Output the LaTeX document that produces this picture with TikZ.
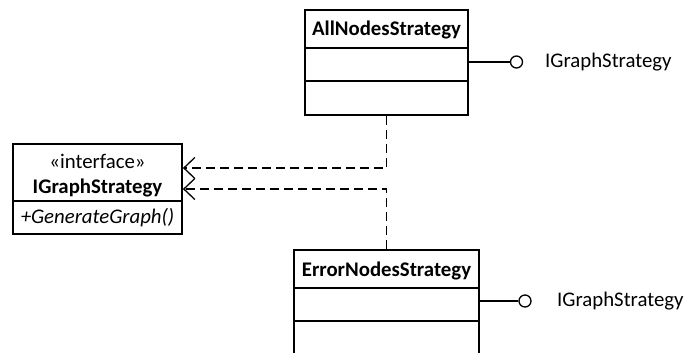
\documentclass[tikz,border=0pt]{standalone}
\usepackage{fontspec}
\setmainfont{Carlito}
\usetikzlibrary{arrows.meta}
\begin{document}
\begin{tikzpicture}[x=1pt,y=-1pt,
  box/.style={draw,line width=1.8pt,inner sep=0pt,fill=white},
  lbl/.style={inner sep=0pt,font=\fontsize{20.8}{25}\selectfont},
  dep/.style={dashed,line width=1.3pt,dash pattern=on 9pt off 5pt,
    -{Straight Barb[length=11pt,width=21pt,line width=1.3pt]}},
  lolli/.style={circle,draw,line width=1.3pt,minimum size=12pt,inner sep=0pt,fill=white},
  lline/.style={line width=1.3pt}]
\clip (0,0) rectangle (689,353);
\fill[white] (0,0) rectangle (689,353);
% AllNodesStrategy
\node[box,minimum width=163pt,minimum height=105pt] (all) at (386.5,62.5) {};
\draw[line width=1.8pt] (305,48) -- (468,48) (305,81) -- (468,81);
\node[lbl,font=\fontsize{20.8}{25}\selectfont\bfseries] (allt) at (386.5,30) {AllNodesStrategy};
% IGraphStrategy interface
\node[box,minimum width=169pt,minimum height=90pt] (iface) at (97.5,189) {};
\draw[line width=1.8pt] (13,201) -- (182,201);
\node[lbl] (ster) at (97.5,161) {«interface»};
\node[lbl,font=\fontsize{20.8}{25}\selectfont\bfseries] (ifacet) at (97.5,188) {IGraphStrategy};
\node[lbl,font=\fontsize{20.8}{25}\selectfont\itshape] (op) at (97.5,218) {+GenerateGraph()};
% ErrorNodesStrategy
\node[box,minimum width=185pt,minimum height=110pt] (err) at (386.5,305) {};
\draw[line width=1.8pt] (294,288) -- (479,288) (294,321) -- (479,321);
\node[lbl,font=\fontsize{20.8}{25}\selectfont\bfseries] (errt) at (386.5,271) {ErrorNodesStrategy};
% dependencies
\draw[dep] (all.south) |- ([yshift=21pt]iface.east);
\draw[dep] (err.north) |- (iface.east);
% lollipops
\node[lolli] (c1) at (516.5,62) {};
\draw[lline] (c1.west) -- (c1.west -| all.east);
\node[lbl,anchor=west] (l1) at (545,62) {IGraphStrategy};
\node[lolli] (c2) at (525,301) {};
\draw[lline] (c2.west) -- (c2.west -| err.east);
\node[lbl,anchor=west] (l2) at (557,301) {IGraphStrategy};
\end{tikzpicture}
\end{document}
